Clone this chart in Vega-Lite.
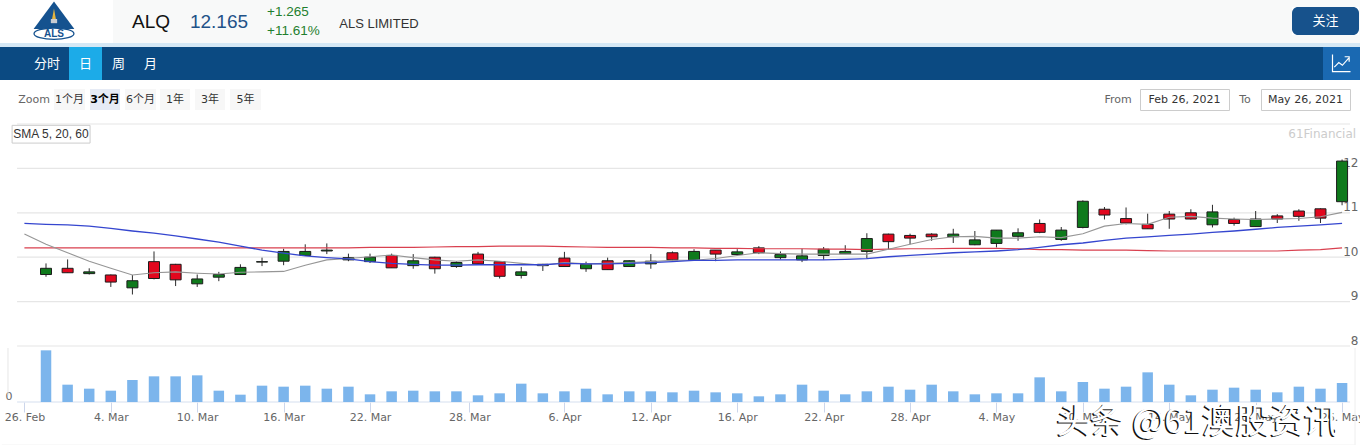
{
  "$schema": "https://vega.github.io/schema/vega-lite/v6.json",
  "padding": 0,
  "background": "#ffffff",
  "spacing": 0,
  "datasets": {
    "sessions": [
      {"session":-1,"date":"2021-02-26","sma5":10.52,"sma20":10.76,"sma60":10.21},
      {"session":0,"date":"2021-03-01","open":9.61,"high":9.86,"low":9.56,"close":9.75,"volume":1.55,"sma5":10.29,"sma20":10.74,"sma60":10.21},
      {"session":1,"date":"2021-03-02","open":9.75,"high":9.95,"low":9.65,"close":9.65,"volume":0.52,"sma5":10.10,"sma20":10.73,"sma60":10.21},
      {"session":2,"date":"2021-03-03","open":9.63,"high":9.75,"low":9.61,"close":9.67,"volume":0.40,"sma5":9.91,"sma20":10.70,"sma60":10.21},
      {"session":3,"date":"2021-03-04","open":9.60,"high":9.61,"low":9.33,"close":9.44,"volume":0.34,"sma5":9.75,"sma20":10.65,"sma60":10.21},
      {"session":4,"date":"2021-03-05","open":9.31,"high":9.60,"low":9.16,"close":9.47,"volume":0.66,"sma5":9.60,"sma20":10.59,"sma60":10.21},
      {"session":5,"date":"2021-03-08","open":9.90,"high":10.13,"low":9.50,"close":9.52,"volume":0.77,"sma5":9.65,"sma20":10.54,"sma60":10.21},
      {"session":6,"date":"2021-03-09","open":9.84,"high":9.85,"low":9.35,"close":9.49,"volume":0.77,"sma5":9.67,"sma20":10.48,"sma60":10.21},
      {"session":7,"date":"2021-03-10","open":9.40,"high":9.61,"low":9.33,"close":9.51,"volume":0.80,"sma5":9.64,"sma20":10.41,"sma60":10.21},
      {"session":8,"date":"2021-03-11","open":9.55,"high":9.67,"low":9.46,"close":9.61,"volume":0.34,"sma5":9.62,"sma20":10.34,"sma60":10.21},
      {"session":9,"date":"2021-03-12","open":9.61,"high":9.84,"low":9.61,"close":9.77,"volume":0.22,"sma5":9.66,"sma20":10.25,"sma60":10.21},
      {"session":10,"date":"2021-03-15","open":9.89,"high":9.99,"low":9.80,"close":9.90,"volume":0.49,"sma5":9.67,"sma20":10.16,"sma60":10.21},
      {"session":11,"date":"2021-03-16","open":9.91,"high":10.19,"low":9.82,"close":10.13,"volume":0.46,"sma5":9.68,"sma20":10.09,"sma60":10.21},
      {"session":12,"date":"2021-03-17","open":10.04,"high":10.29,"low":10.03,"close":10.13,"volume":0.49,"sma5":9.82,"sma20":10.03,"sma60":10.21},
      {"session":13,"date":"2021-03-18","open":10.14,"high":10.31,"low":10.07,"close":10.16,"volume":0.40,"sma5":9.94,"sma20":9.99,"sma60":10.21},
      {"session":14,"date":"2021-03-19","open":9.94,"high":10.08,"low":9.91,"close":9.99,"volume":0.46,"sma5":9.97,"sma20":9.96,"sma60":10.21},
      {"session":15,"date":"2021-03-22","open":9.90,"high":10.08,"low":9.87,"close":10.00,"volume":0.23,"sma5":10.01,"sma20":9.90,"sma60":10.22},
      {"session":16,"date":"2021-03-23","open":10.04,"high":10.08,"low":9.76,"close":9.76,"volume":0.32,"sma5":10.05,"sma20":9.86,"sma60":10.22},
      {"session":17,"date":"2021-03-24","open":9.81,"high":10.07,"low":9.74,"close":9.92,"volume":0.34,"sma5":9.99,"sma20":9.84,"sma60":10.22},
      {"session":18,"date":"2021-03-25","open":10.00,"high":10.01,"low":9.63,"close":9.74,"volume":0.32,"sma5":9.94,"sma20":9.82,"sma60":10.23},
      {"session":19,"date":"2021-03-26","open":9.79,"high":9.91,"low":9.76,"close":9.88,"volume":0.32,"sma5":9.91,"sma20":9.82,"sma60":10.24},
      {"session":20,"date":"2021-03-29","open":10.07,"high":10.12,"low":9.85,"close":9.85,"volume":0.20,"sma5":9.94,"sma20":9.83,"sma60":10.24},
      {"session":21,"date":"2021-03-30","open":9.90,"high":9.91,"low":9.52,"close":9.57,"volume":0.26,"sma5":9.91,"sma20":9.83,"sma60":10.25},
      {"session":22,"date":"2021-03-31","open":9.59,"high":9.78,"low":9.52,"close":9.67,"volume":0.55,"sma5":9.86,"sma20":9.83,"sma60":10.25},
      {"session":23,"date":"2021-04-01","open":9.81,"high":9.85,"low":9.69,"close":9.84,"volume":0.26,"sma5":9.82,"sma20":9.83,"sma60":10.25},
      {"session":24,"date":"2021-04-06","open":9.98,"high":10.12,"low":9.79,"close":9.79,"volume":0.32,"sma5":9.88,"sma20":9.86,"sma60":10.24},
      {"session":25,"date":"2021-04-07","open":9.74,"high":9.90,"low":9.67,"close":9.84,"volume":0.40,"sma5":9.85,"sma20":9.85,"sma60":10.23},
      {"session":26,"date":"2021-04-08","open":9.92,"high":9.99,"low":9.72,"close":9.72,"volume":0.23,"sma5":9.86,"sma20":9.85,"sma60":10.22},
      {"session":27,"date":"2021-04-09","open":9.79,"high":9.93,"low":9.79,"close":9.92,"volume":0.32,"sma5":9.88,"sma20":9.86,"sma60":10.22},
      {"session":28,"date":"2021-04-12","open":9.85,"high":10.07,"low":9.74,"close":9.91,"volume":0.32,"sma5":9.90,"sma20":9.88,"sma60":10.22},
      {"session":29,"date":"2021-04-13","open":10.10,"high":10.13,"low":9.93,"close":9.94,"volume":0.29,"sma5":9.93,"sma20":9.90,"sma60":10.21},
      {"session":30,"date":"2021-04-14","open":9.93,"high":10.18,"low":9.93,"close":10.13,"volume":0.34,"sma5":9.93,"sma20":9.93,"sma60":10.21},
      {"session":31,"date":"2021-04-15","open":10.16,"high":10.16,"low":9.91,"close":10.07,"volume":0.29,"sma5":9.97,"sma20":9.93,"sma60":10.20},
      {"session":32,"date":"2021-04-16","open":10.06,"high":10.18,"low":10.03,"close":10.12,"volume":0.26,"sma5":10.04,"sma20":9.94,"sma60":10.20},
      {"session":33,"date":"2021-04-19","open":10.21,"high":10.25,"low":10.07,"close":10.10,"volume":0.17,"sma5":10.10,"sma20":9.94,"sma60":10.19},
      {"session":34,"date":"2021-04-20","open":9.99,"high":10.13,"low":9.95,"close":10.06,"volume":0.23,"sma5":10.08,"sma20":9.94,"sma60":10.19},
      {"session":35,"date":"2021-04-21","open":9.94,"high":10.19,"low":9.89,"close":10.03,"volume":0.52,"sma5":10.07,"sma20":9.94,"sma60":10.19},
      {"session":36,"date":"2021-04-22","open":10.04,"high":10.23,"low":9.94,"close":10.18,"volume":0.34,"sma5":10.07,"sma20":9.94,"sma60":10.18},
      {"session":37,"date":"2021-04-23","open":10.08,"high":10.27,"low":10.07,"close":10.13,"volume":0.23,"sma5":10.07,"sma20":9.95,"sma60":10.18},
      {"session":38,"date":"2021-04-26","open":10.13,"high":10.54,"low":9.97,"close":10.42,"volume":0.32,"sma5":10.07,"sma20":9.97,"sma60":10.17},
      {"session":39,"date":"2021-04-27","open":10.52,"high":10.53,"low":10.18,"close":10.35,"volume":0.46,"sma5":10.18,"sma20":10.01,"sma60":10.18},
      {"session":40,"date":"2021-04-28","open":10.49,"high":10.53,"low":10.29,"close":10.43,"volume":0.37,"sma5":10.29,"sma20":10.04,"sma60":10.19},
      {"session":41,"date":"2021-04-29","open":10.52,"high":10.54,"low":10.37,"close":10.46,"volume":0.52,"sma5":10.40,"sma20":10.07,"sma60":10.19},
      {"session":42,"date":"2021-04-30","open":10.46,"high":10.64,"low":10.32,"close":10.52,"volume":0.32,"sma5":10.46,"sma20":10.10,"sma60":10.20},
      {"session":43,"date":"2021-05-03","open":10.28,"high":10.59,"low":10.27,"close":10.39,"volume":0.23,"sma5":10.47,"sma20":10.12,"sma60":10.20},
      {"session":44,"date":"2021-05-04","open":10.31,"high":10.61,"low":10.22,"close":10.61,"volume":0.26,"sma5":10.43,"sma20":10.14,"sma60":10.20},
      {"session":45,"date":"2021-05-05","open":10.47,"high":10.65,"low":10.37,"close":10.55,"volume":0.26,"sma5":10.43,"sma20":10.17,"sma60":10.19},
      {"session":46,"date":"2021-05-06","open":10.76,"high":10.85,"low":10.54,"close":10.56,"volume":0.74,"sma5":10.46,"sma20":10.22,"sma60":10.17},
      {"session":47,"date":"2021-05-07","open":10.40,"high":10.68,"low":10.37,"close":10.61,"volume":0.32,"sma5":10.44,"sma20":10.28,"sma60":10.17},
      {"session":48,"date":"2021-05-10","open":10.67,"high":11.28,"low":10.65,"close":11.26,"volume":0.60,"sma5":10.53,"sma20":10.32,"sma60":10.16},
      {"session":49,"date":"2021-05-11","open":11.08,"high":11.13,"low":10.85,"close":10.95,"volume":0.40,"sma5":10.70,"sma20":10.38,"sma60":10.16},
      {"session":50,"date":"2021-05-12","open":10.87,"high":11.12,"low":10.74,"close":10.77,"volume":0.46,"sma5":10.76,"sma20":10.43,"sma60":10.16},
      {"session":51,"date":"2021-05-13","open":10.74,"high":10.98,"low":10.64,"close":10.64,"volume":0.89,"sma5":10.74,"sma20":10.46,"sma60":10.15},
      {"session":52,"date":"2021-05-14","open":10.97,"high":11.04,"low":10.64,"close":10.86,"volume":0.52,"sma5":10.90,"sma20":10.49,"sma60":10.14},
      {"session":53,"date":"2021-05-17","open":11.00,"high":11.08,"low":10.85,"close":10.86,"volume":0.20,"sma5":10.92,"sma20":10.52,"sma60":10.14},
      {"session":54,"date":"2021-05-18","open":10.73,"high":11.18,"low":10.67,"close":11.02,"volume":0.37,"sma5":10.88,"sma20":10.56,"sma60":10.14},
      {"session":55,"date":"2021-05-19","open":10.85,"high":10.89,"low":10.71,"close":10.76,"volume":0.43,"sma5":10.86,"sma20":10.59,"sma60":10.14},
      {"session":56,"date":"2021-05-20","open":10.69,"high":11.04,"low":10.69,"close":10.86,"volume":0.37,"sma5":10.85,"sma20":10.63,"sma60":10.14},
      {"session":57,"date":"2021-05-21","open":10.93,"high":10.97,"low":10.77,"close":10.86,"volume":0.29,"sma5":10.86,"sma20":10.67,"sma60":10.14},
      {"session":58,"date":"2021-05-24","open":11.04,"high":11.08,"low":10.82,"close":10.92,"volume":0.46,"sma5":10.87,"sma20":10.70,"sma60":10.16},
      {"session":59,"date":"2021-05-25","open":11.09,"high":11.10,"low":10.77,"close":10.88,"volume":0.40,"sma5":10.91,"sma20":10.73,"sma60":10.17},
      {"session":60,"date":"2021-05-26","open":11.25,"high":12.20,"low":11.17,"close":12.165,"volume":0.57,"sma5":11.01,"sma20":10.76,"sma60":10.21}
    ]
  },
  "config": {
    "concat": {"spacing": 0},
    "view": {"stroke": null},
    "scale": {"continuousPadding": 0},
    "text": {"font": "DejaVu Sans, Noto Sans CJK SC", "fontSize": 11, "color": "#333333"}
  },
  "vconcat": [
    {
      "hconcat": [
        {
          "width": 113, "height": 43,
          "view": {"fill": "#ffffff"},
          "data": {"values": [{"t": "ALS"}]},
          "layer": [
            {"mark": {"type": "point", "filled": true, "opacity": 1, "size": 1764, "color": "#15528f", "shape": "M-.12,-.95 L.85,.36 L-1.09,.36 Z"}},
            {"mark": {"type": "point", "filled": true, "opacity": 1, "size": 1764, "color": "#e5b53e", "shape": "M-.12,-.62 L-.03,-.12 L-.21,-.12 Z"}},
            {"mark": {"type": "point", "filled": true, "opacity": 1, "size": 1764, "color": "#c9ccd1", "shape": "M-.27,-.12 h.3 v.2 h-.3 Z"}},
            {"mark": {"type": "point", "filled": true, "opacity": 1, "size": 1764, "color": "#ffffff", "stroke": "#15528f", "strokeWidth": 1.3, "shape": "M-1.07,.58 a.95,.27 0 1,0 1.9,0 a.95,.27 0 1,0 -1.9,0 Z"}},
            {"mark": {"type": "text", "fontSize": 10, "fontWeight": "bold", "font": "Liberation Sans", "color": "#15528f", "dx": -2.5, "dy": 12}, "encoding": {"text": {"field": "t"}}}
          ]
        },
        {"width": 76, "height": 43, "view": {"fill": "#f8f9f9"}, "data": {"values": [{"t": "ALQ"}]}, "mark": {"type": "text", "font": "Liberation Sans", "fontSize": 19, "color": "#111111"}, "encoding": {"text": {"field": "t"}}},
        {"width": 60, "height": 43, "view": {"fill": "#f8f9f9"}, "data": {"values": [{"t": "12.165"}]}, "mark": {"type": "text", "font": "Liberation Sans", "fontSize": 19, "color": "#1f5288"}, "encoding": {"text": {"field": "t"}}},
        {"width": 88, "height": 43, "view": {"fill": "#f8f9f9"}, "data": {"values": [{"t": "+1.265\n+11.61%"}]}, "mark": {"type": "text", "font": "Liberation Sans", "fontSize": 13.5, "color": "#1f7f2e", "align": "left", "dx": -26, "dy": -10, "lineBreak": "\n", "lineHeight": 19}, "encoding": {"text": {"field": "t"}}},
        {"width": 84, "height": 43, "view": {"fill": "#f8f9f9"}, "data": {"values": [{"t": "ALS LIMITED"}]}, "mark": {"type": "text", "font": "Liberation Sans", "fontSize": 13, "color": "#333333", "dy": 2}, "encoding": {"text": {"field": "t"}}},
        {"width": 871, "height": 43, "view": {"fill": "#f8f9f9"}, "data": {"values": [{"t": ""}]}, "mark": {"type": "text", "fontSize": 1}},
        {
          "vconcat": [
            {"width": 67, "height": 7, "view": {"fill": "#f8f9f9"}, "data": {"values": [{"t": ""}]}, "mark": {"type": "text", "fontSize": 1}},
            {"width": 67, "height": 28, "view": {"fill": "#17528c", "cornerRadius": 6}, "data": {"values": [{"t": "关注"}]}, "mark": {"type": "text", "font": "Noto Sans CJK SC", "fontSize": 13, "color": "#ffffff"}, "encoding": {"text": {"field": "t"}}},
            {"width": 67, "height": 8, "view": {"fill": "#f8f9f9"}, "data": {"values": [{"t": ""}]}, "mark": {"type": "text", "fontSize": 1}}
          ]
        },
        {"width": 1, "height": 43, "view": {"fill": "#f8f9f9"}, "data": {"values": [{"t": ""}]}, "mark": {"type": "text", "fontSize": 1}}
      ]
    },
    {"width": 1360, "height": 4, "view": {"fill": "#d5e8f5"}, "data": {"values": [{"t": ""}]}, "mark": {"type": "text", "fontSize": 1}},
    {
      "hconcat": [
        {"width": 25, "height": 33, "view": {"fill": "#0b4a82"}, "data": {"values": [{"t": ""}]}, "mark": {"type": "text", "fontSize": 1}},
        {"width": 44, "height": 33, "view": {"fill": "#0b4a82"}, "data": {"values": [{"t": "分时"}]}, "mark": {"type": "text", "font": "Noto Sans CJK SC", "fontSize": 13, "color": "#ffffff"}, "encoding": {"text": {"field": "t"}}},
        {"width": 33, "height": 33, "view": {"fill": "#1cabe8"}, "data": {"values": [{"t": "日"}]}, "mark": {"type": "text", "font": "Noto Sans CJK SC", "fontSize": 13, "color": "#ffffff"}, "encoding": {"text": {"field": "t"}}},
        {"width": 33, "height": 33, "view": {"fill": "#0b4a82"}, "data": {"values": [{"t": "周"}]}, "mark": {"type": "text", "font": "Noto Sans CJK SC", "fontSize": 13, "color": "#ffffff"}, "encoding": {"text": {"field": "t"}}},
        {"width": 31, "height": 33, "view": {"fill": "#0b4a82"}, "data": {"values": [{"t": "月"}]}, "mark": {"type": "text", "font": "Noto Sans CJK SC", "fontSize": 13, "color": "#ffffff"}, "encoding": {"text": {"field": "t"}}},
        {"width": 1157, "height": 33, "view": {"fill": "#0b4a82"}, "data": {"values": [{"t": ""}]}, "mark": {"type": "text", "fontSize": 1}},
        {"width": 37, "height": 33, "view": {"fill": "#1a69b2"}, "data": {"values": [{"t": ""}]}, "mark": {"type": "point", "opacity": 1, "size": 324, "color": "#ffffff", "strokeWidth": 1.2, "shape": "M-1,-1 V.9 H1 M-.8,.4 L-.3,-.1 L.1,.2 L.8,-.6 M.35,-.75 L.85,-.75 L.85,-.2"}}
      ]
    },
    {"width": 1360, "height": 8, "data": {"values": [{"t": ""}]}, "mark": {"type": "text", "fontSize": 1}},
    {
      "hconcat": [
        {"width": 14, "height": 21, "data": {"values": [{"t": ""}]}, "mark": {"type": "text", "fontSize": 1}},
        {"width": 40, "height": 21, "data": {"values": [{"t": "Zoom"}]}, "mark": {"type": "text", "color": "#666666"}, "encoding": {"text": {"field": "t"}}},
        {"width": 31, "height": 21, "view": {"fill": "#f7f7f7"}, "data": {"values": [{"t": "1个月"}]}, "mark": "text", "encoding": {"text": {"field": "t"}}},
        {"width": 5, "height": 21, "data": {"values": [{"t": ""}]}, "mark": {"type": "text", "fontSize": 1}},
        {"width": 30, "height": 21, "view": {"fill": "#e6ebf5"}, "data": {"values": [{"t": "3个月"}]}, "mark": {"type": "text", "fontWeight": "bold", "color": "#000000"}, "encoding": {"text": {"field": "t"}}},
        {"width": 5, "height": 21, "data": {"values": [{"t": ""}]}, "mark": {"type": "text", "fontSize": 1}},
        {"width": 31, "height": 21, "view": {"fill": "#f7f7f7"}, "data": {"values": [{"t": "6个月"}]}, "mark": "text", "encoding": {"text": {"field": "t"}}},
        {"width": 4, "height": 21, "data": {"values": [{"t": ""}]}, "mark": {"type": "text", "fontSize": 1}},
        {"width": 30, "height": 21, "view": {"fill": "#f7f7f7"}, "data": {"values": [{"t": "1年"}]}, "mark": "text", "encoding": {"text": {"field": "t"}}},
        {"width": 5, "height": 21, "data": {"values": [{"t": ""}]}, "mark": {"type": "text", "fontSize": 1}},
        {"width": 30, "height": 21, "view": {"fill": "#f7f7f7"}, "data": {"values": [{"t": "3年"}]}, "mark": "text", "encoding": {"text": {"field": "t"}}},
        {"width": 5, "height": 21, "data": {"values": [{"t": ""}]}, "mark": {"type": "text", "fontSize": 1}},
        {"width": 31, "height": 21, "view": {"fill": "#f7f7f7"}, "data": {"values": [{"t": "5年"}]}, "mark": "text", "encoding": {"text": {"field": "t"}}},
        {"width": 836, "height": 21, "data": {"values": [{"t": ""}]}, "mark": {"type": "text", "fontSize": 1}},
        {"width": 42, "height": 21, "data": {"values": [{"t": "From"}]}, "mark": {"type": "text", "color": "#666666"}, "encoding": {"text": {"field": "t"}}},
        {"width": 89, "height": 21, "view": {"stroke": "#cccccc"}, "data": {"values": [{"t": "Feb 26, 2021"}]}, "mark": "text", "encoding": {"text": {"field": "t"}}},
        {"width": 30, "height": 21, "data": {"values": [{"t": "To"}]}, "mark": {"type": "text", "color": "#666666"}, "encoding": {"text": {"field": "t"}}},
        {"width": 89, "height": 21, "view": {"stroke": "#cccccc"}, "data": {"values": [{"t": "May 26, 2021"}]}, "mark": "text", "encoding": {"text": {"field": "t"}}},
        {"width": 7, "height": 21, "data": {"values": [{"t": ""}]}, "mark": {"type": "text", "fontSize": 1}}
      ]
    },
    {"width": 1360, "height": 12, "data": {"values": [{"t": ""}]}, "mark": {"type": "text", "fontSize": 1}},
    {
      "width": 1360,
      "height": 222,
      "data": {"name": "sessions"},
      "resolve": {"axis": {"x": "independent", "y": "independent"}},
      "layer": [
        {
          "data": {"values": [{"level": 8}, {"level": 9}, {"level": 10}, {"level": 11}, {"level": 12}, {"level": 13}]},
          "mark": {"type": "rule", "color": "#e6e6e6", "strokeWidth": 1.2},
          "encoding": {
            "x": {"datum": -1.34, "type": "quantitative", "scale": {"domain": [-2.13, 60.83]}, "axis": null},
            "x2": {"datum": 60.37},
            "y": {
              "field": "level", "type": "quantitative", "scale": {"domain": [8, 13]},
              "axis": {"orient": "right", "values": [8, 9, 10, 11, 12], "title": null, "domain": false, "ticks": false, "grid": false, "labelAlign": "right", "labelBaseline": "middle", "labelOffset": -6, "labelPadding": -2, "labelBound": false, "labelFontSize": 12, "labelFont": "DejaVu Sans", "labelColor": "#666666"}
            }
          }
        },
        {
          "transform": [{"filter": "isValid(datum.open)"}],
          "mark": {"type": "rule", "color": "#2b2b2b", "strokeWidth": 1},
          "encoding": {
            "x": {"field": "session", "type": "quantitative", "scale": {"domain": [-2.13, 60.83]}, "axis": null},
            "y": {"field": "low", "type": "quantitative", "scale": {"domain": [8, 13]}, "axis": null},
            "y2": {"field": "high"}
          }
        },
        {
          "transform": [{"filter": "isValid(datum.open)"}],
          "mark": {"type": "bar", "orient": "vertical", "size": 11, "stroke": "#1c1c1c", "strokeWidth": 1},
          "encoding": {
            "x": {"field": "session", "type": "quantitative", "scale": {"domain": [-2.13, 60.83]}, "axis": null},
            "y": {"field": "open", "type": "quantitative", "scale": {"domain": [8, 13]}, "axis": null},
            "y2": {"field": "close"},
            "color": {"condition": {"test": "datum.close >= datum.open", "value": "#0f7a1c"}, "value": "#e2071e"}
          }
        },
        {
          "mark": {"type": "line", "color": "#d9404f", "strokeWidth": 1.2},
          "encoding": {
            "x": {"field": "session", "type": "quantitative", "scale": {"domain": [-2.13, 60.83]}, "axis": null},
            "y": {"field": "sma60", "type": "quantitative", "scale": {"domain": [8, 13]}, "axis": null}
          }
        },
        {
          "mark": {"type": "line", "color": "#969696", "strokeWidth": 1.1},
          "encoding": {
            "x": {"field": "session", "type": "quantitative", "scale": {"domain": [-2.13, 60.83]}, "axis": null},
            "y": {"field": "sma5", "type": "quantitative", "scale": {"domain": [8, 13]}, "axis": null}
          }
        },
        {
          "mark": {"type": "line", "color": "#3546cf", "strokeWidth": 1.3},
          "encoding": {
            "x": {"field": "session", "type": "quantitative", "scale": {"domain": [-2.13, 60.83]}, "axis": null},
            "y": {"field": "sma20", "type": "quantitative", "scale": {"domain": [8, 13]}, "axis": null}
          }
        },
        {
          "data": {"values": [{"t": "SMA 5, 20, 60"}]},
          "mark": {"type": "rect", "fill": "#ffffff", "stroke": "#cccccc", "strokeWidth": 1},
          "encoding": {
            "x": {"datum": -1.57, "type": "quantitative", "scale": {"domain": [-2.13, 60.83]}, "axis": null},
            "x2": {"datum": 2.04},
            "y": {"datum": 12.97, "type": "quantitative", "scale": {"domain": [8, 13]}, "axis": null},
            "y2": {"datum": 12.57}
          }
        },
        {
          "data": {"values": [{"t": "SMA 5, 20, 60"}]},
          "mark": {"type": "text", "font": "Liberation Sans", "fontSize": 12, "color": "#333333"},
          "encoding": {
            "x": {"datum": 0.23, "type": "quantitative", "scale": {"domain": [-2.13, 60.83]}, "axis": null},
            "y": {"datum": 12.77, "type": "quantitative", "scale": {"domain": [8, 13]}, "axis": null},
            "text": {"field": "t"}
          }
        },
        {
          "data": {"values": [{"t": "61Financial"}]},
          "mark": {"type": "text", "align": "right", "fontSize": 12, "color": "#cccccc"},
          "encoding": {
            "x": {"datum": 60.65, "type": "quantitative", "scale": {"domain": [-2.13, 60.83]}, "axis": null},
            "y": {"datum": 12.77, "type": "quantitative", "scale": {"domain": [8, 13]}, "axis": null},
            "text": {"field": "t"}
          }
        }
      ]
    },
    {
      "width": 1360,
      "height": 54,
      "data": {"name": "sessions"},
      "resolve": {"axis": {"x": "independent", "y": "independent"}},
      "layer": [
        {
          "data": {"values": [{"t": "faint side rule"}]},
          "mark": {"type": "rule", "color": "#e6e6e6"},
          "encoding": {
            "x": {"datum": -1.76, "type": "quantitative", "scale": {"domain": [-2.13, 60.83]}, "axis": null},
            "y": {"datum": 0.2, "type": "quantitative", "scale": {"domain": [0, 1.62]}, "axis": null},
            "y2": {"datum": 1.62}
          }
        },
        {
          "data": {"values": [{"t": "right edge"}]},
          "mark": {"type": "rule", "color": "#eeeeee"},
          "encoding": {
            "x": {"datum": 60.6, "type": "quantitative", "scale": {"domain": [-2.13, 60.83]}, "axis": null},
            "y": {"datum": 1.62, "type": "quantitative", "scale": {"domain": [0, 1.62]}, "axis": null},
            "y2": {"datum": -1.29}
          }
        },
        {
          "data": {"values": [{"t": "bottom edge"}]},
          "mark": {"type": "rule", "color": "#f2f2f2"},
          "encoding": {
            "x": {"datum": -2.05, "type": "quantitative", "scale": {"domain": [-2.13, 60.83]}, "axis": null},
            "x2": {"datum": 60.6},
            "y": {"datum": -1.29, "type": "quantitative", "scale": {"domain": [0, 1.62]}, "axis": null}
          }
        },
        {
          "data": {"values": [{"t": "baseline"}]},
          "mark": {"type": "rule", "color": "#d5e0f0", "strokeWidth": 1.2},
          "encoding": {
            "x": {"datum": -1.34, "type": "quantitative", "scale": {"domain": [-2.13, 60.83]}, "axis": null},
            "x2": {"datum": 60.37},
            "y": {"datum": 0, "type": "quantitative", "scale": {"domain": [0, 1.62]}, "axis": null}
          }
        },
        {
          "transform": [{"filter": "isValid(datum.volume)"}],
          "mark": {"type": "bar", "orient": "vertical", "size": 10.5, "color": "#7cb5ec"},
          "encoding": {
            "x": {
              "field": "session", "type": "quantitative", "scale": {"domain": [-2.13, 60.83]},
              "axis": {
                "values": [-1, 3, 7, 11, 15, 19.6, 24, 28, 32, 36, 40, 44, 48, 52, 56, 60],
                "labelExpr": "{'-1':'26. Feb','3':'4. Mar','7':'10. Mar','11':'16. Mar','15':'22. Mar','19.6':'28. Mar','24':'6. Apr','28':'12. Apr','32':'16. Apr','36':'22. Apr','40':'28. Apr','44':'4. May','48':'10. May','52':'14. May','56':'20. May','60':'26. May'}[datum.value]",
                "title": null, "domain": false, "grid": false, "tickColor": "#ccd6eb", "tickSize": 10, "labelPadding": -1, "labelColor": "#666666", "labelFontSize": 11, "labelFont": "DejaVu Sans", "labelOverlap": false, "labelBound": false, "labelFlush": false
              }
            },
            "y": {
              "field": "volume", "type": "quantitative", "scale": {"domain": [0, 1.62]},
              "axis": {"orient": "left", "values": [0], "title": null, "domain": false, "ticks": false, "grid": false, "offset": -14, "labelPadding": 2, "labelBaseline": "bottom", "labelOffset": -1, "labelColor": "#666666", "labelFontSize": 11, "labelFont": "DejaVu Sans"}
            }
          }
        },
        {
          "data": {"values": [{"t": "头条 @61澳股资讯"}]},
          "mark": {"type": "text", "font": "Noto Sans CJK SC", "fontSize": 34, "color": "#111111", "dx": -1.5, "dy": 1},
          "encoding": {
            "x": {"datum": 53.3, "type": "quantitative", "scale": {"domain": [-2.13, 60.83]}, "axis": null},
            "y": {"datum": -0.62, "type": "quantitative", "scale": {"domain": [0, 1.62]}, "axis": null},
            "text": {"field": "t"}
          }
        },
        {
          "data": {"values": [{"t": "头条 @61澳股资讯"}]},
          "mark": {"type": "text", "font": "Noto Sans CJK SC", "fontSize": 34, "color": "#ffffff"},
          "encoding": {
            "x": {"datum": 53.3, "type": "quantitative", "scale": {"domain": [-2.13, 60.83]}, "axis": null},
            "y": {"datum": -0.62, "type": "quantitative", "scale": {"domain": [0, 1.62]}, "axis": null},
            "text": {"field": "t"}
          }
        }
      ]
    }
  ]
}
